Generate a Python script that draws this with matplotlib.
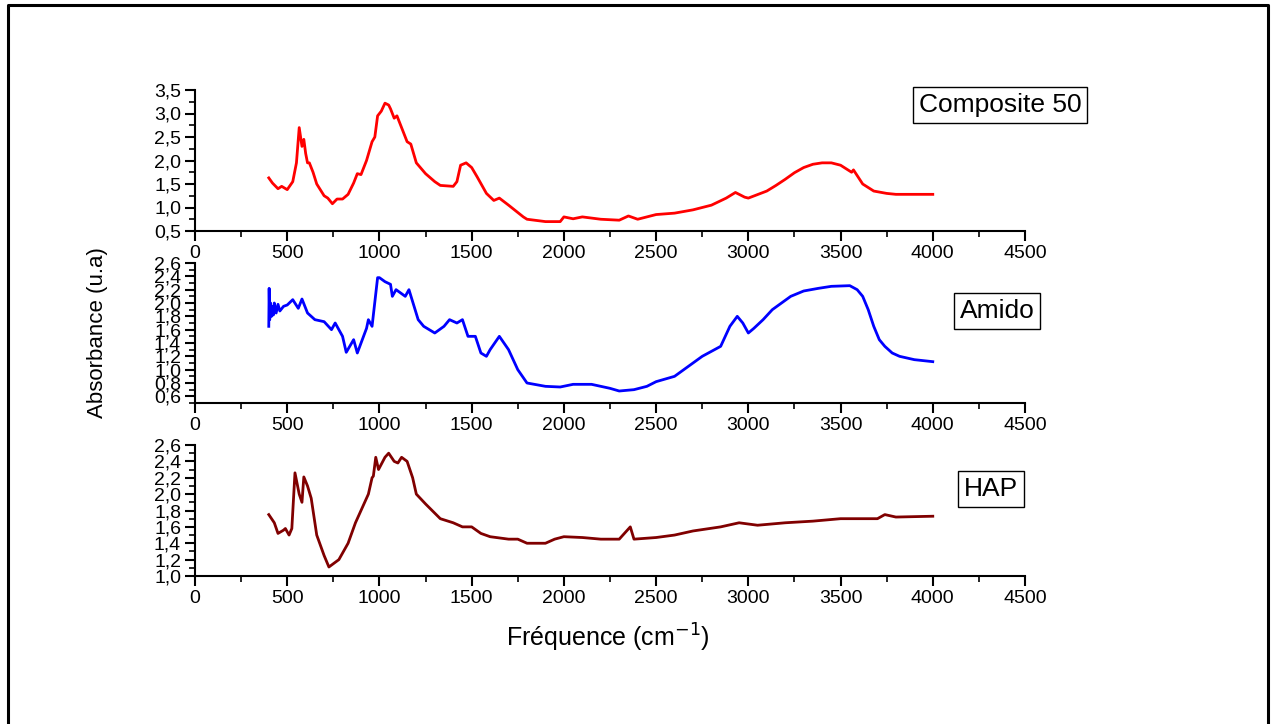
import numpy as np
import matplotlib
matplotlib.use("Agg")
from matplotlib import pyplot as plt
from matplotlib.ticker import MultipleLocator, FuncFormatter
from matplotlib.lines import Line2D

plt.rcParams['font.family'] = ['Liberation Sans', 'DejaVu Sans']

# Composite 50 (red)
comp_x = [400, 420, 450, 470, 500, 530, 550, 565, 580, 590, 600, 610, 620, 640, 660, 700,
          720, 745, 770, 800, 830, 860, 880, 900, 930, 960, 975, 990, 1010, 1030, 1050,
          1060, 1080, 1095, 1110, 1150, 1170, 1200, 1250, 1300, 1330, 1400, 1420, 1440,
          1470, 1500, 1530, 1580, 1620, 1650, 1700, 1780, 1800, 1900, 1980, 2000, 2050,
          2100, 2200, 2300, 2350, 2400, 2500, 2600, 2700, 2800, 2880, 2930, 2980, 3000,
          3100, 3150, 3200, 3250, 3300, 3350, 3400, 3450, 3500, 3560, 3570, 3620, 3680,
          3750, 3800, 4000]
comp_y = [1.63, 1.52, 1.40, 1.45, 1.38, 1.55, 1.95, 2.70, 2.30, 2.45, 2.15, 1.95, 1.95, 1.75, 1.50, 1.25,
          1.20, 1.08, 1.18, 1.18, 1.28, 1.52, 1.72, 1.70, 2.00, 2.40, 2.50, 2.95, 3.05, 3.22, 3.18,
          3.10, 2.90, 2.95, 2.80, 2.40, 2.35, 1.95, 1.72, 1.55, 1.47, 1.45, 1.55, 1.90,
          1.95, 1.85, 1.65, 1.30, 1.15, 1.20, 1.05, 0.80, 0.75, 0.70, 0.70, 0.80, 0.76,
          0.80, 0.75, 0.73, 0.82, 0.75, 0.85, 0.88, 0.95, 1.05, 1.20, 1.32, 1.22, 1.20,
          1.35, 1.47, 1.60, 1.74, 1.85, 1.92, 1.95, 1.95, 1.90, 1.75, 1.80, 1.50, 1.35,
          1.30, 1.28, 1.28]

# Amido (blue)
amido_x = [400, 402, 405, 410, 415, 420, 425, 430, 440, 450, 460, 480, 500, 530, 560, 580,
           610, 650, 700, 740, 760, 800, 820, 860, 880, 930, 940, 960, 990, 1000, 1030,
           1060, 1070, 1090, 1140, 1160, 1210, 1240, 1300, 1350, 1380, 1420, 1450, 1480,
           1520, 1550, 1580, 1600, 1650, 1700, 1750, 1800, 1900, 1980, 2050, 2150, 2250,
           2300, 2380, 2450, 2500, 2600, 2650, 2750, 2850, 2900, 2940, 2970, 3000, 3030,
           3080, 3130, 3180, 3230, 3300, 3380, 3450, 3550, 3590, 3620, 3650, 3680, 3710,
           3740, 3780, 3820, 3900, 4000]
amido_y = [1.65, 2.22, 1.75, 2.00, 1.80, 1.95, 1.82, 2.00, 1.85, 1.98, 1.88, 1.95, 1.97, 2.05, 1.92, 2.06,
           1.85, 1.75, 1.72, 1.60, 1.70, 1.50, 1.26, 1.45, 1.25, 1.62, 1.75, 1.65, 2.38, 2.38, 2.32,
           2.28, 2.10, 2.20, 2.10, 2.20, 1.75, 1.65, 1.55, 1.65, 1.75, 1.70, 1.75, 1.50,
           1.50, 1.25, 1.20, 1.30, 1.50, 1.30, 1.00, 0.80, 0.75, 0.74, 0.78, 0.78, 0.72,
           0.68, 0.70, 0.75, 0.82, 0.90, 1.00, 1.20, 1.35, 1.65, 1.80, 1.70, 1.55, 1.62,
           1.75, 1.90, 2.00, 2.10, 2.18, 2.22, 2.25, 2.26, 2.20, 2.10, 1.90, 1.65, 1.45,
           1.35, 1.25, 1.20, 1.15, 1.12]

# HAP (maroon)
hap_x = [400, 430, 450, 480, 490, 510, 525, 542, 565, 580, 590, 610, 630, 660, 700, 726,
         780, 830, 870, 900, 940, 960, 967, 980, 995, 1030, 1050, 1080, 1100, 1120, 1150,
         1180, 1200, 1250, 1330, 1400, 1450, 1500, 1550, 1600, 1700, 1750, 1800, 1900,
         1950, 2000, 2100, 2200, 2300, 2340, 2360, 2380, 2500, 2600, 2700, 2850, 2950,
         3050, 3200, 3350, 3500, 3700, 3740, 3800, 4000]
hap_y = [1.75, 1.65, 1.52, 1.56, 1.58, 1.50, 1.58, 2.26, 2.00, 1.90, 2.21, 2.10, 1.95, 1.50, 1.25, 1.11,
         1.20, 1.40, 1.65, 1.80, 2.00, 2.20, 2.22, 2.45, 2.30, 2.45, 2.50, 2.40, 2.38, 2.45, 2.40,
         2.20, 2.00, 1.88, 1.70, 1.65, 1.60, 1.60, 1.52, 1.48, 1.45, 1.45, 1.40, 1.40,
         1.45, 1.48, 1.47, 1.45, 1.45, 1.55, 1.60, 1.45, 1.47, 1.50, 1.55, 1.60, 1.65,
         1.62, 1.65, 1.67, 1.70, 1.70, 1.75, 1.72, 1.73]

labels = ['Composite 50', 'Amido', 'HAP']
colors = ['#ff0000', '#0000ff', '#800000']

W, H = 1274, 724
fig = plt.figure(figsize=(W / 100, H / 100), dpi=100)

def px_axes(left, top, right, bottom):
    return fig.add_axes([left / W, 1 - bottom / H, (right - left) / W, (bottom - top) / H])

comma = FuncFormatter(lambda v, p: ('%.1f' % v).replace('.', ','))

panels = [
    (px_axes(195, 90, 1025, 231), comp_x, comp_y, (0.5, 3.5), 0.5, 0.25, 0.5),
    (px_axes(195, 263, 1025, 403), amido_x, amido_y, (0.5, 2.6), 0.2, 0.1, 0.6),
    (px_axes(195, 445, 1025, 576), hap_x, hap_y, (1.0, 2.6), 0.2, 0.1, 1.0),
]

for (ax, xs, ys, ylim, major, minor, first), col in zip(panels, colors):
    ax.plot(xs, ys, color=col, lw=2.0)
    ax.set_xlim(0, 4500)
    ax.set_ylim(*ylim)
    ax.set_yticks(np.arange(first, ylim[1] + 1e-6, major))
    ax.yaxis.set_minor_locator(MultipleLocator(minor))
    ax.xaxis.set_major_locator(MultipleLocator(500))
    ax.xaxis.set_minor_locator(MultipleLocator(250))
    ax.yaxis.set_major_formatter(comma)
    for s in ['top', 'right']:
        ax.spines[s].set_visible(False)
    for s in ['left', 'bottom']:
        ax.spines[s].set_linewidth(1.5)
    ax.tick_params(which='major', direction='out', length=7, width=1.5, labelsize=14, pad=3)
    ax.tick_params(which='minor', direction='out', length=4, width=1.2)
    ax.set_facecolor('none')

# series labels in boxes
box = dict(boxstyle='square,pad=0.22', fc='white', ec='black', lw=1.0)
fig.text(1000 / W, 1 - 105 / H, labels[0], fontsize=19, ha='center', va='center', bbox=box)
fig.text(997 / W, 1 - 311 / H, labels[1], fontsize=19, ha='center', va='center', bbox=box)
fig.text(991 / W, 1 - 489 / H, labels[2], fontsize=19, ha='center', va='center', bbox=box)

fig.text(97 / W, 1 - 333 / H, 'Absorbance (u.a)', fontsize=16, rotation=90,
         ha='center', va='center')
fig.text(608 / W, 1 - 638 / H, 'Fréquence (cm$^{-1}$)', fontsize=18,
         ha='center', va='center')

# outer frame (left, top, right)
fx = [8 / W, 8 / W, 1268 / W, 1268 / W]
fy = [0, 1 - 5 / H, 1 - 5 / H, 0]
fig.add_artist(Line2D(fx, fy, color='black', lw=2.2, transform=fig.transFigure))

fig.savefig('out.png', dpi=100)
